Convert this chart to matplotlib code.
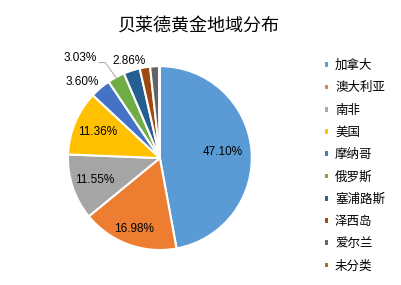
import numpy as np
import matplotlib
matplotlib.use("Agg")
import matplotlib.pyplot as plt

plt.rcParams['font.family'] = ['Noto Sans CJK SC', 'DejaVu Sans']

# -----------------------------------
# Data
# -----------------------------------
regions = ["加拿大", "澳大利亚", "南非", "美国", "摩纳哥", "俄罗斯", "塞浦路斯", "泽西岛", "爱尔兰", "未分类"]
shares = [47.10, 16.98, 11.55, 11.36, 3.60, 3.03, 2.86, 1.82, 1.55, 0.15]
colors = ["#5B9BD5", "#ED7D31", "#A5A5A5", "#FFC000", "#4472C4",
          "#70AD47", "#255E91", "#9E480E", "#636363", "#997300"]
shown = 7  # only first seven slices carry a label
label_r = [0.69, 0.82, 0.75, 0.73, 1.18, 1.39, 1.11]
label_shift = [0, 0, 0, 0, 5, 10, 0]  # degrees, to nudge crowded labels

# -----------------------------------
# Figure
# -----------------------------------
fig = plt.figure(figsize=(4.01, 2.85), dpi=100)
ax = fig.add_axes([0.1007, 0.026, 0.596, 0.8386])

wedges, _ = ax.pie(shares, colors=colors, startangle=90, counterclock=False,
                   radius=1.0, wedgeprops=dict(edgecolor="white", linewidth=1.5))
ax.set_xlim(-1.3, 1.3)
ax.set_ylim(-1.3, 1.3)
ax.set_aspect("equal")

# -----------------------------------
# Percentage labels
# -----------------------------------
for i in range(shown):
    w = wedges[i]
    mid = np.deg2rad((w.theta1 + w.theta2) / 2 + label_shift[i])
    x, y = label_r[i] * np.cos(mid), label_r[i] * np.sin(mid)
    ax.text(x, y, f"{shares[i]:.2f}%", ha="center", va="center",
            fontsize=8.5, family=["Liberation Sans"], color="black")
    if i == 5:
        # leader line for the 3.03% label
        mid0 = np.deg2rad((w.theta1 + w.theta2) / 2)
        ex, ey = 0.98 * np.cos(mid0), 0.98 * np.sin(mid0)
        ax.plot([x + 0.2, x + 0.27, ex], [y - 0.05, y - 0.05, ey],
                color="#A6A6A6", linewidth=0.7)

# -----------------------------------
# Title & legend
# -----------------------------------
fig.text(0.497, 0.91, "贝莱德黄金地域分布", ha="center", va="center", fontsize=13)

fig.legend(wedges, regions, loc="upper left", bbox_to_anchor=(0.795, 0.81),
           frameon=False, fontsize=9, handlelength=0.45, handleheight=0.45,
           handletextpad=0.45, labelspacing=0.74, borderaxespad=0)

fig.savefig("out.png", dpi=100)
